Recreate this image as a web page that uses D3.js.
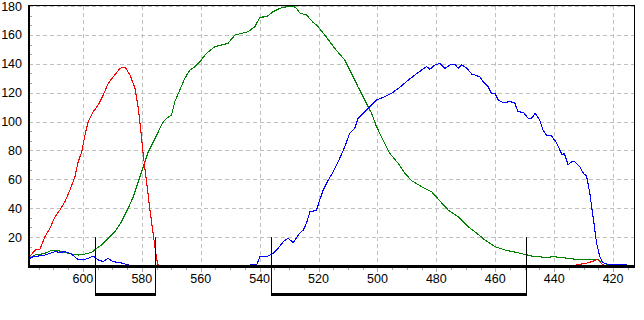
<!DOCTYPE html>
<html>
<head>
<meta charset="utf-8">
<script src="https://cdn.jsdelivr.net/npm/d3@7"></script>
<style>
    body { margin: 0; background: #fff; }
    svg { display: block; font-family: "Liberation Sans", Arial, sans-serif; font-size: 12.5px; }
</style>
</head>
<body>
<svg id="chart" width="644" height="320"></svg>
<script>
// wavelength (nm), intensity
const redSeries = [
    [618, 6.4], [616.3, 11], [614.6, 11.5], [612.9, 20.3], [611.2, 26], [609.5, 34], [607.8, 38.8],
    [606.1, 44.5], [604.4, 52.6], [602.7, 61.8], [601.6, 72.2], [600.4, 79.1], [599.3, 90.7],
    [598.2, 99.9], [596.5, 106.8], [594.8, 111.5], [593.1, 118.4], [591.4, 126.5], [589.7, 131],
    [587.4, 136.9], [585.7, 137.8], [584, 132.2], [582.3, 123], [581.2, 109.2], [580.3, 93],
    [579.5, 76.8], [578.4, 58.4], [577.3, 40], [576.1, 21.5], [575, 5.3], [574.4, 0],
    [433, 0], [432.4, 1], [430, 1.5], [428, 2.5], [426.5, 3.5], [425.3, 4.6], [424, 2], [423, 0], [413, 0]
];
const greenSeries = [
    [618, 6], [616.3, 7.6], [614, 8.3], [612.3, 9.2], [610.6, 11], [608.4, 10.6], [606.1, 9.5],
    [603.8, 8.3], [601.6, 7.6], [599.3, 8.3], [597, 9.5], [595.3, 12.3], [593.7, 14.5], [591.4, 19.2],
    [589.1, 23.7], [586.9, 30.7], [584.6, 40], [582.9, 48], [581.2, 58.4], [579.5, 68.7], [577.8, 79.1],
    [576.1, 86], [574.4, 93], [572.7, 99.9], [571.6, 102.2], [569.9, 104.5], [568.8, 113.7],
    [567.1, 121.9], [565.4, 129.9], [563.7, 135.7], [562, 138], [560.3, 141.4], [558, 147.3],
    [555.2, 151.9], [552.9, 153], [550.7, 154.2], [548.4, 159.9], [546.1, 161.1], [543.9, 162.2],
    [541.6, 165.7], [539.9, 172.2], [537.6, 172.6], [535.4, 176.1], [533.1, 178.4], [530.9, 179.5],
    [528.6, 180], [527.5, 178.4], [526.3, 175], [524.1, 173.8], [521.8, 168.5], [520.5, 166.5],
    [517.9, 159.9], [514.5, 150.7], [511.1, 142.6], [508.8, 133.4], [506.6, 124.1], [504.3, 114.9],
    [502, 105.7], [500.3, 96.4], [498.1, 87.2], [495.8, 78], [493, 71.1], [490.7, 64.2], [488.4, 59.1],
    [485, 54.9], [481.6, 51.4], [479.4, 46.4], [476, 38.8], [472.6, 34.1], [469.2, 27.2], [466.9, 23.7],
    [463.5, 18], [460.1, 13.4], [456.8, 11.1], [452.3, 9.2], [447.7, 6.9], [443.2, 6], [439.8, 6.4],
    [435.3, 5.3], [430.8, 4.2], [426.8, 4.2], [425.3, 4.6], [424, 3], [422.3, 1.4], [420.7, 0.5]
];
const blueSeries = [
    [618, 5.3], [616.9, 6.4], [615.2, 6.9], [612.9, 7.6], [611.2, 8.8], [609.5, 9.9], [607.8, 9.5],
    [606.1, 9.9], [604.4, 8.8], [602.7, 6.4], [601.6, 4.2], [599.9, 4.2], [598.2, 5.3], [596.5, 6.9],
    [594.8, 4.2], [593.1, 3], [591.4, 5.3], [589.7, 3], [588, 2.5], [586.3, 1.8], [584.6, 0.7], [583.5, 0],
    [544, 0], [543.3, 0.7], [541, 0.7], [539.9, 6.4], [537.6, 6.4], [535.4, 8.8], [533.7, 12.3],
    [532, 16.8], [530.3, 19.2], [528.6, 16.1], [526.9, 21.5], [525.2, 24.9], [524.1, 29.6], [522.9, 37.6],
    [520.7, 38.5], [519.6, 45.7], [518.4, 52.6], [516.7, 59.5], [515, 65.3], [513.3, 72.2], [511.1, 82.6],
    [509.4, 91.9], [507.7, 95.3], [506.6, 102.2], [504.3, 106.8], [502, 111.5], [500.3, 114.9],
    [497.5, 117.2], [495.2, 119.6], [492.4, 123.7], [489.5, 128.8], [487.3, 132.2], [485, 135.7],
    [483.3, 138], [482.2, 136.2], [480.5, 139.2], [478.8, 140.3], [477.1, 136.9], [475.4, 139.2],
    [473.7, 139.6], [472.6, 136.9], [471.4, 139.2], [469.7, 136.9], [468, 132.9], [466.9, 132.2],
    [465.2, 131], [464.1, 127.6], [462.4, 124.1], [461.3, 119.6], [460.1, 119.6], [459, 114.9],
    [457.3, 113.1], [455.1, 113.8], [453.4, 113.1], [452.3, 106.8], [450.5, 106.4], [448.8, 102.2],
    [447.7, 102.2], [446.4, 105.7], [444.9, 101.1], [443.8, 94.2], [442.6, 90.7], [440.9, 90],
    [439.2, 85.4], [438.1, 80.3], [437.3, 76.8], [436.6, 78], [435.8, 73.4], [435.3, 69.9], [434.1, 72.2],
    [433, 72.2], [431.3, 68.7], [430.1, 64.2], [429, 62.3], [427.9, 50.3], [426.8, 34.1], [425.6, 15.7],
    [424.5, 6.4], [423.4, 2.3], [421.7, 1.2], [419.4, 0.7], [415.4, 0.7]
];
const xTickLabels = [600, 580, 560, 540, 520, 500, 480, 460, 440, 420];
const yTickLabels = [20, 40, 60, 80, 100, 120, 140, 160, 180];
// marked wavelength ranges under the axis
const brackets = [[596, 575.6], [536, 449.5]];

let plotLeft = 29, plotRight = 634, plotTop = 6, plotBottom = 266;

let x = d3.scaleLinear().domain([618.3, 412.9]).range([plotLeft, plotRight]);
let y = d3.scaleLinear().domain([0, 180]).range([plotBottom, plotTop]);

let svg = d3.select("#chart");

// grid
svg.selectAll("line.hgrid")
    .data(yTickLabels)
    .enter().append("line")
    .attr("x1", plotLeft).attr("x2", plotRight)
    .attr("y1", function(d) { return Math.round(y(d)) + 0.5; })
    .attr("y2", function(d) { return Math.round(y(d)) + 0.5; })
    .attr("stroke", "#c0c0c0")
    .attr("stroke-dasharray", "4,3")
    .attr("shape-rendering", "crispEdges");
svg.selectAll("line.vgrid")
    .data(xTickLabels)
    .enter().append("line")
    .attr("x1", function(d) { return Math.round(x(d)) + 0.5; })
    .attr("x2", function(d) { return Math.round(x(d)) + 0.5; })
    .attr("y1", plotTop).attr("y2", plotBottom)
    .attr("stroke", "#c0c0c0")
    .attr("stroke-dasharray", "4,3")
    .attr("shape-rendering", "crispEdges");

// curves
let line = d3.line()
    .x(function(d) { return x(d[0]); })
    .y(function(d) { return y(d[1]); });
[[greenSeries, "#008000"], [blueSeries, "#0000ff"], [redSeries, "#ff0000"]].forEach(function(s) {
    svg.append("path")
        .datum(s[0])
        .attr("d", line)
        .attr("fill", "none")
        .attr("stroke", s[1])
        .attr("stroke-width", 1.1)
        .attr("shape-rendering", "crispEdges");
});

// frame
svg.append("rect").attr("x", plotLeft - 1).attr("y", plotTop - 1).attr("width", 2).attr("height", plotBottom - plotTop + 3).attr("fill", "#000");
svg.append("rect").attr("x", plotLeft - 1).attr("y", plotBottom - 1).attr("width", plotRight - plotLeft + 2).attr("height", 3).attr("fill", "#000");
svg.append("rect").attr("x", plotLeft).attr("y", plotTop - 1).attr("width", plotRight - plotLeft + 1).attr("height", 1).attr("fill", "#000");
svg.append("rect").attr("x", plotRight).attr("y", plotTop - 1).attr("width", 1).attr("height", plotBottom - plotTop + 1).attr("fill", "#000");

// x ticks
let minorX = d3.range(415, 620, 5).filter(function(d) { return d % 20 !== 0; });
svg.selectAll("line.xminor")
    .data(minorX)
    .enter().append("line")
    .attr("x1", function(d) { return Math.round(x(d)) + 0.5; })
    .attr("x2", function(d) { return Math.round(x(d)) + 0.5; })
    .attr("y1", plotBottom + 2).attr("y2", plotBottom + 4)
    .attr("stroke", "#a0a0a0");
svg.selectAll("line.xmajor")
    .data(xTickLabels)
    .enter().append("line")
    .attr("x1", function(d) { return Math.round(x(d)) + 0.5; })
    .attr("x2", function(d) { return Math.round(x(d)) + 0.5; })
    .attr("y1", plotBottom + 2).attr("y2", plotBottom + 6)
    .attr("stroke", "#b0b0b0");
svg.selectAll("text.xlabel")
    .data(xTickLabels)
    .enter().append("text")
    .attr("x", function(d) { return x(d); })
    .attr("y", 283)
    .attr("text-anchor", "middle")
    .text(function(d) { return d; });

// y ticks
let minorY = d3.range(1, 27).filter(function(i) { return i % 3 !== 0; }).map(function(i) { return i * 20 / 3; });
svg.selectAll("line.yminor")
    .data(minorY)
    .enter().append("line")
    .attr("x1", plotLeft + 1).attr("x2", plotLeft + 3)
    .attr("y1", function(d) { return Math.round(y(d)) + 0.5; })
    .attr("y2", function(d) { return Math.round(y(d)) + 0.5; })
    .attr("stroke", "#a0a0a0");
svg.selectAll("text.ylabel")
    .data(yTickLabels)
    .enter().append("text")
    .attr("x", 22)
    .attr("y", function(d) { return y(d) + 4.5; })
    .attr("text-anchor", "end")
    .text(function(d) { return d; });

// brackets
brackets.forEach(function(b) {
    let x1 = Math.round(x(b[0])), x2 = Math.round(x(b[1]));
    svg.append("line").attr("x1", x1 + 0.5).attr("x2", x1 + 0.5).attr("y1", y(20)).attr("y2", 295).attr("stroke", "#000");
    svg.append("line").attr("x1", x2 + 0.5).attr("x2", x2 + 0.5).attr("y1", y(20)).attr("y2", 295).attr("stroke", "#000");
    svg.append("rect").attr("x", x1).attr("y", 293).attr("width", x2 - x1 + 1).attr("height", 3).attr("fill", "#000");
});
</script>
</body>
</html>
